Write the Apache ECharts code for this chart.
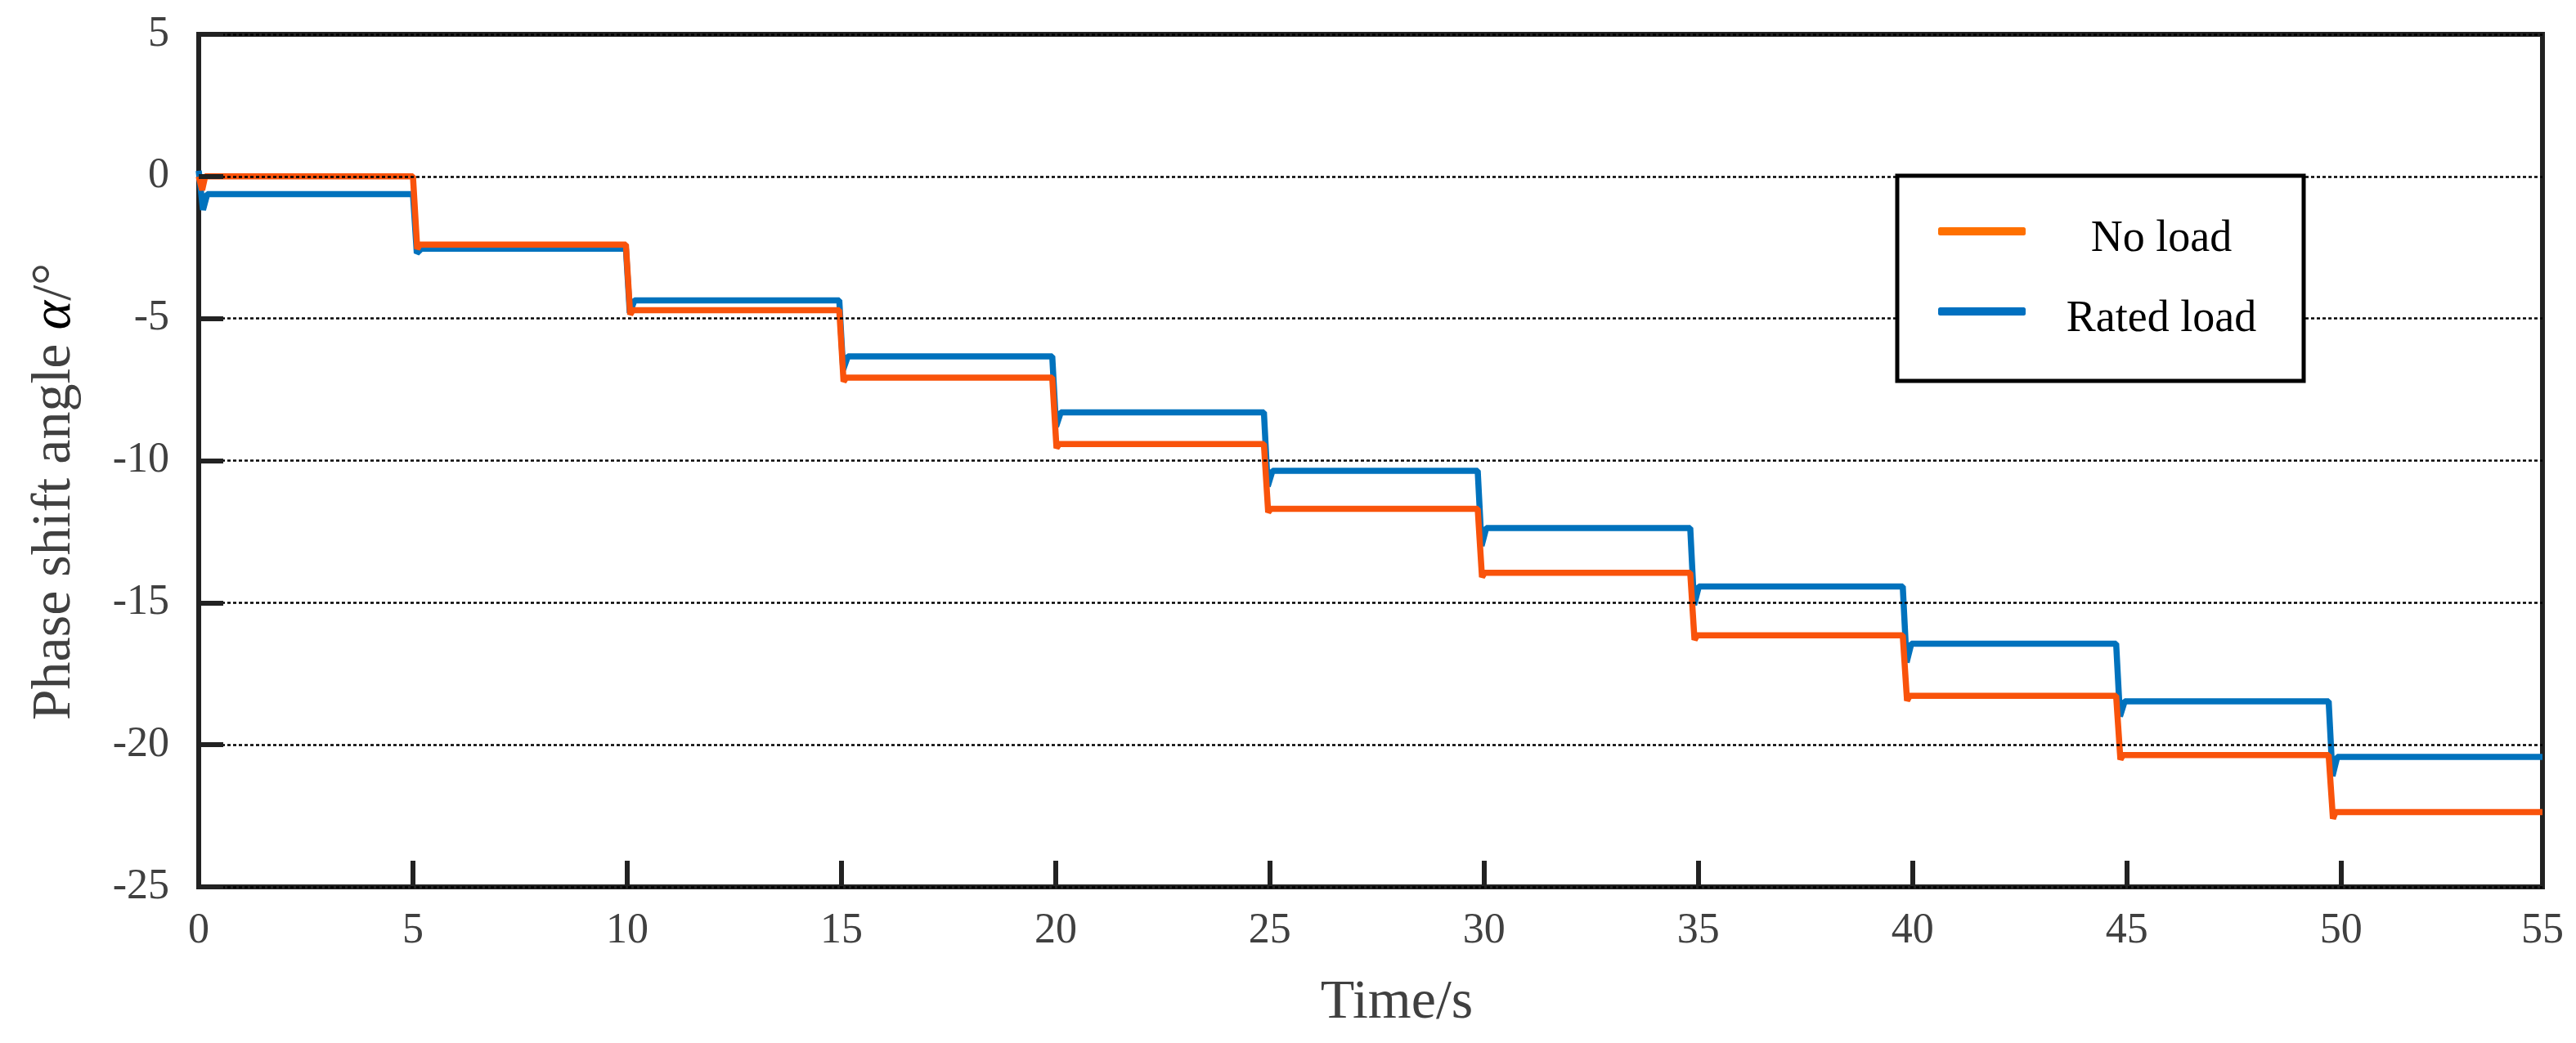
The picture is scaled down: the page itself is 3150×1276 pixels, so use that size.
<!DOCTYPE html>
<html>
<head>
<meta charset="utf-8">
<script src="https://cdn.jsdelivr.net/npm/echarts@6/dist/echarts.min.js"></script>
<style>
html,body{margin:0;padding:0;background:#fff;}
#chart{width:3150px;height:1276px;}
</style>
</head>
<body>
<div id="chart"></div>
<script>
// ---- data ----
const X_MAX = 54.7;
const xTickLabels = ['0','5','10','15','20','25','30','35','40','45','50','55'];
const seriesNames = ['No load', 'Rated load'];

// times (s) at which the commanded phase step happens
const stepTimes = [5.0, 9.97, 14.95, 19.92, 24.86, 29.85, 34.81, 39.77, 44.75, 49.71];

// settled level of each step (deg)
const noLoadLevels    = [0.0, -2.40, -4.71, -7.08, -9.42, -11.70, -13.95, -16.15, -18.28, -20.36, -22.37];
const ratedLoadLevels = [-0.62, -2.54, -4.36, -6.33, -8.30, -10.36, -12.37, -14.43, -16.44, -18.47, -20.43];

// transient extreme reached during each step change (deg)
const noLoadUndershoot = [-2.55, -4.86, -7.22, -9.56, -11.82, -14.10, -16.31, -18.45, -20.52, -22.60];
const ratedLoadDip     = [-2.70, -4.80, -6.80, -8.80, -10.90, -13.00, -15.08, -17.10, -19.00, -21.10];

// start-up transients [time, value]
const noLoadStart    = [[0, 0.0], [0.08, -0.48], [0.15, 0.0]];
const ratedLoadStart = [[0, 0.2], [0.10, -1.18], [0.20, -0.62]];

// time offsets of the transient points after each step (s)
const noLoadTransientDt    = [0.10, 0.16];
const ratedLoadTransientDt = [0.09, 0.20];

function buildSeries(start, levels, extremes, dts) {
  const pts = start.map(p => p.slice());
  for (let i = 0; i < stepTimes.length; i++) {
    const t = stepTimes[i];
    pts.push([t, levels[i]]);
    pts.push([t + dts[0], extremes[i]]);
    pts.push([t + dts[1], levels[i + 1]]);
  }
  pts.push([X_MAX, levels[levels.length - 1]]);
  return pts;
}

const noLoadData = buildSeries(noLoadStart, noLoadLevels, noLoadUndershoot, noLoadTransientDt);
const ratedLoadData = buildSeries(ratedLoadStart, ratedLoadLevels, ratedLoadDip, ratedLoadTransientDt);

const FONT = 'Liberation Serif, Times New Roman, serif';

const chart = echarts.init(document.getElementById('chart'), null, {renderer: 'canvas'});
chart.setOption({
  animation: false,
  backgroundColor: '#ffffff',
  grid: {
    left: 243, right: 41, top: 42, bottom: 191,
    show: true, borderColor: '#222222', borderWidth: 6, backgroundColor: 'transparent'
  },
  xAxis: {
    type: 'value', min: 0, max: X_MAX, interval: 5,
    axisLine: {show: false, onZero: false},
    axisTick: {show: true, inside: true, length: 32, lineStyle: {color: '#222222', width: 6}},
    splitLine: {show: false},
    axisLabel: {
      margin: 28, fontSize: 52, color: '#404040', fontFamily: FONT,
      showMaxLabel: true, showMinLabel: true,
      formatter: (v, idx) => xTickLabels[idx]
    },
    name: 'Time/s', nameLocation: 'middle', nameGap: 108,
    nameTextStyle: {fontSize: 68, color: '#404040', fontFamily: FONT, padding: [0, 0, 0, 64]}
  },
  yAxis: {
    type: 'value', min: -25, max: 5, interval: 5, z: 3,
    axisLine: {show: false, onZero: false},
    axisTick: {show: true, inside: true, length: 30, lineStyle: {color: '#222222', width: 6}},
    splitLine: {show: true, lineStyle: {color: '#000000', type: [4, 3], width: 2.5}},
    axisLabel: {margin: 36, fontSize: 52, color: '#404040', fontFamily: FONT},
    name: '{n|Phase shift angle }{a|α}{n|/°}', nameLocation: 'middle', nameGap: 142,
    nameTextStyle: {
      fontSize: 68, color: '#404040', fontFamily: FONT, padding: [0, 76, 0, 0],
      rich: {
        n: {fontSize: 68, color: '#404040', fontFamily: FONT},
        a: {fontSize: 68, color: '#000000', fontFamily: FONT, fontStyle: 'italic'}
      }
    }
  },
  legend: {
    orient: 'vertical', left: 2320, top: 215,
    padding: [31, 13, 48, 50],
    borderColor: '#000000', borderWidth: 5, backgroundColor: '#ffffff',
    itemGap: 24, itemWidth: 107, itemHeight: 10, icon: 'roundRect',
    data: [
      {name: seriesNames[0], itemStyle: {color: '#FF7000'}},
      {name: seriesNames[1], itemStyle: {color: '#0070C0'}}
    ],
    formatter: name => '{c|' + name + '}',
    textStyle: {
      fontFamily: FONT, fontSize: 54, color: '#000000', lineHeight: 60,
      rich: {c: {width: 322, align: 'center', fontFamily: FONT, fontSize: 54, color: '#000000', lineHeight: 60, padding: [20, 0, 0, 0]}}
    }
  },
  series: [
    {
      name: seriesNames[1], type: 'line', data: ratedLoadData, showSymbol: false,
      lineStyle: {color: '#0072BD', width: 7.5}, itemStyle: {color: '#0072BD'}, z: 2
    },
    {
      name: seriesNames[0], type: 'line', data: noLoadData, showSymbol: false,
      lineStyle: {color: '#F9530B', width: 7.5}, itemStyle: {color: '#F9530B'}, z: 2
    }
  ]
});
</script>
</body>
</html>
